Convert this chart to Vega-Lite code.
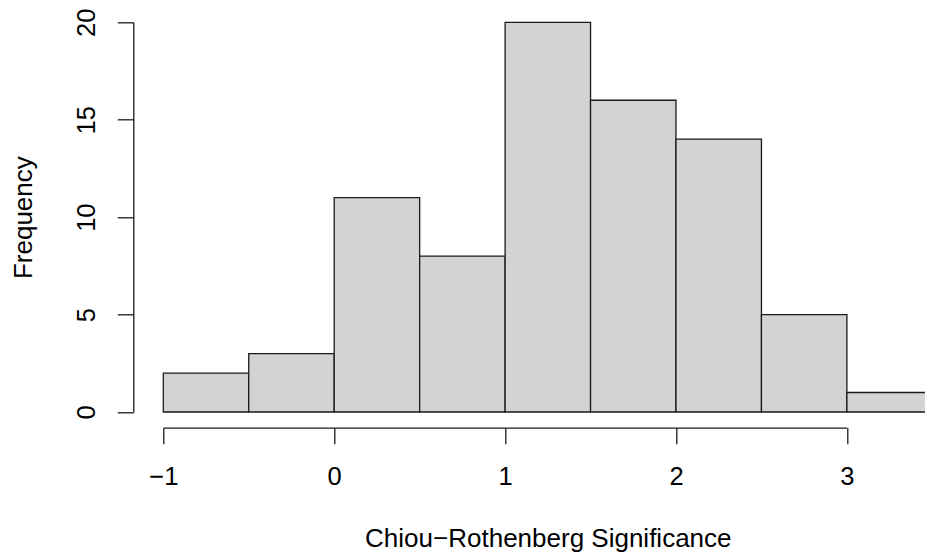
{
  "$schema": "https://vega.github.io/schema/vega-lite/v6.json",
  "autosize": "none",
  "padding": {"left": 163.3, "top": 22.3, "right": 0, "bottom": 140},
  "width": 761.7,
  "height": 389.7,
  "background": "white",
  "config": {
    "view": {"stroke": null},
    "font": "Liberation Sans",
    "axis": {
      "grid": false,
      "domainColor": "#1a1a1a",
      "domainWidth": 1.3,
      "tickColor": "#1a1a1a",
      "tickWidth": 1.3,
      "tickSize": 16,
      "labelFont": "Liberation Sans",
      "labelFontSize": 25.5,
      "labelColor": "black",
      "labelFlush": false,
      "labelOverlap": false,
      "titleFont": "Liberation Sans",
      "titleFontSize": 26,
      "titleFontWeight": "normal",
      "titleColor": "black"
    }
  },
  "data": {
    "values": [
      {"start": -1.0, "end": -0.5, "count": 2},
      {"start": -0.5, "end": 0.0, "count": 3},
      {"start": 0.0, "end": 0.5, "count": 11},
      {"start": 0.5, "end": 1.0, "count": 8},
      {"start": 1.0, "end": 1.5, "count": 20},
      {"start": 1.5, "end": 2.0, "count": 16},
      {"start": 2.0, "end": 2.5, "count": 14},
      {"start": 2.5, "end": 3.0, "count": 5},
      {"start": 3.0, "end": 3.5, "count": 1}
    ]
  },
  "mark": {"type": "bar", "fill": "#d3d3d3", "stroke": "#1a1a1a", "strokeWidth": 1.3, "clip": false},
  "encoding": {
    "x": {
      "field": "start",
      "type": "quantitative",
      "scale": {"domain": [-1, 3], "range": [0, 683.6], "nice": false, "zero": false},
      "axis": {
        "title": "Chiou−Rothenberg Significance",
        "values": [-1, 0, 1, 2, 3],
        "offset": 15.7,
        "labelBaseline": "alphabetic",
        "labelPadding": 40.6,
        "titleX": 384.5,
        "titleY": 119,
        "titleBaseline": "alphabetic",
        "titleAlign": "center"
      }
    },
    "x2": {"field": "end"},
    "y": {
      "field": "count",
      "type": "quantitative",
      "scale": {"domain": [0, 20], "range": [389.7, 0], "nice": false, "zero": true},
      "axis": {
        "title": "Frequency",
        "values": [0, 5, 10, 15, 20],
        "offset": 30,
        "labelAngle": -90,
        "labelAlign": "center",
        "labelBaseline": "alphabetic",
        "labelPadding": 23,
        "titleX": -102,
        "titleBaseline": "alphabetic",
        "titleAlign": "center"
      }
    },
    "y2": {"datum": 0}
  }
}
